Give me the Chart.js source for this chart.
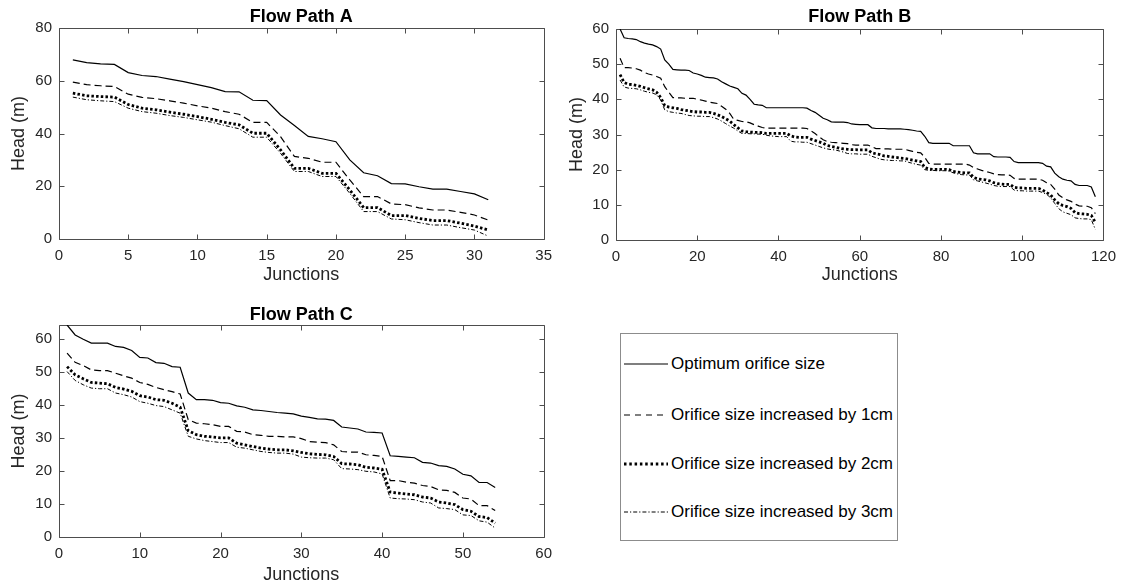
<!DOCTYPE html>
<html>
<head>
<meta charset="utf-8">
<script src="https://cdn.jsdelivr.net/npm/chart.js@4.4.0/dist/chart.umd.min.js"></script>
<style>
  body { margin: 0; background: #fff; width: 1124px; height: 585px; position: relative; overflow: hidden; font-family: "Liberation Sans", Arial, sans-serif; }
  .panel { position: absolute; }
  .legend { position: absolute; left: 620px; top: 333px; width: 278px; height: 208px; border: 1px solid #8c8c8c; box-sizing: border-box; background: #fff; }
  .legend .row { position: absolute; left: 3px; height: 20px; display: flex; align-items: center; font-size: 17px; color: #000; white-space: nowrap; }
  .legend svg { width: 44px; height: 6px; margin-right: 3px; }
</style>
</head>
<body>
<div class="panel" style="left:0;top:0"><canvas id="chartA" width="560" height="290"></canvas></div>
<div class="panel" style="left:560px;top:0"><canvas id="chartB" width="564" height="290"></canvas></div>
<div class="panel" style="left:0;top:290px"><canvas id="chartC" width="560" height="295"></canvas></div>

<div class="legend">
  <div class="row" style="top:20px"><svg><line x1="0" y1="3" x2="44" y2="3" stroke="#000" stroke-width="1.2"/></svg>Optimum orifice size</div>
  <div class="row" style="top:71px"><svg><line x1="0" y1="3" x2="44" y2="3" stroke="#000" stroke-width="1.2" stroke-dasharray="6,5"/></svg>Orifice size increased by 1cm</div>
  <div class="row" style="top:120px"><svg><line x1="0" y1="3" x2="44" y2="3" stroke="#000" stroke-width="2.8" stroke-dasharray="2.5,2.8"/></svg>Orifice size increased by 2cm</div>
  <div class="row" style="top:168px"><svg><line x1="0" y1="3" x2="44" y2="3" stroke="#000" stroke-width="1" stroke-dasharray="4,2,1.2,2"/></svg>Orifice size increased by 3cm</div>
</div>

<script>
// ---- Flow Path A (31 junctions) ----
const headA_opt = [67.9, 66.9, 66.4, 66.2, 63.1, 62.0, 61.6, 60.6, 59.7, 58.5,
  57.4, 55.9, 55.8, 52.6, 52.5, 47.0, 43.0, 38.9, 38.0, 36.9,
  30.0, 25.1, 24.0, 21.0, 20.9, 19.8, 18.9, 18.9, 18.0, 17.1, 14.9];
const headA_1cm = [59.5, 58.5, 58.1, 57.8, 54.9, 53.7, 53.2, 52.4, 51.5, 50.5,
  49.6, 48.3, 47.3, 44.2, 44.2, 38.8, 31.3, 30.6, 29.1, 29.1,
  22.4, 16.1, 16.1, 13.3, 13.0, 11.8, 11.0, 11.0, 10.1, 9.1, 7.2];
const headA_2cm = [55.3, 54.3, 54.0, 53.8, 51.0, 49.6, 49.0, 48.1, 47.3, 46.4,
  45.4, 44.2, 43.3, 40.1, 40.1, 33.8, 26.8, 26.8, 24.9, 24.9,
  18.6, 11.9, 11.9, 8.9, 8.9, 7.8, 7.0, 7.0, 6.0, 4.9, 3.4];
const headA_3cm = [53.8, 52.8, 52.4, 52.1, 49.6, 48.3, 47.7, 46.8, 46.1, 45.2,
  44.3, 43.0, 41.8, 38.6, 38.6, 32.5, 25.6, 25.6, 23.7, 23.7,
  17.3, 10.4, 10.4, 7.6, 7.3, 6.2, 5.3, 5.3, 4.3, 3.4, 1.1];

// ---- Flow Path B (118 junctions) ----
const headB_opt = [60.0, 57.5, 57.3, 57.2, 57.0, 56.4, 56.0, 55.7, 55.5, 55.0,
  54.3, 51.2, 50.0, 48.5, 48.4, 48.3, 48.3, 48.2, 47.5, 47.2,
  46.8, 46.3, 46.2, 46.1, 45.8, 45.0, 44.4, 43.8, 43.4, 43.0,
  41.7, 41.2, 40.0, 38.6, 38.4, 38.3, 37.6, 37.6, 37.6, 37.6,
  37.6, 37.6, 37.6, 37.6, 37.6, 37.6, 37.5, 36.8, 36.3, 35.5,
  34.6, 34.2, 33.6, 33.5, 33.5, 33.5, 33.4, 33.0, 32.9, 32.8,
  32.8, 32.8, 31.9, 31.7, 31.7, 31.7, 31.6, 31.6, 31.6, 31.6,
  31.5, 31.4, 31.2, 31.0, 30.9, 29.5, 27.7, 27.5, 27.5, 27.5,
  27.5, 27.5, 26.8, 26.8, 26.8, 26.8, 26.8, 24.8, 24.5, 24.5,
  24.5, 24.5, 23.7, 23.6, 23.6, 23.6, 23.5, 22.3, 22.0, 22.0,
  22.0, 22.0, 22.0, 22.0, 21.8, 21.0, 20.8, 19.0, 18.0, 17.3,
  17.0, 16.8, 15.8, 15.5, 15.5, 15.5, 15.1, 12.3];
const headB_1cm = [51.7, 49.0, 49.0, 48.9, 48.7, 48.3, 47.6, 47.2, 46.9, 46.5,
  46.0, 43.6, 42.0, 40.5, 40.4, 40.4, 40.3, 40.3, 40.3, 40.0,
  39.8, 39.5, 39.2, 39.0, 38.8, 38.0, 37.2, 36.0, 34.3, 34.0,
  33.7, 33.6, 33.3, 32.8, 32.4, 32.0, 31.8, 31.8, 31.8, 31.8,
  31.8, 31.8, 31.8, 31.8, 31.8, 31.8, 31.7, 31.0, 30.3, 29.3,
  28.5, 28.0, 27.8, 27.7, 27.6, 27.5, 27.4, 27.1, 27.0, 27.0,
  27.0, 27.0, 26.5, 26.0, 26.0, 25.9, 25.9, 25.8, 25.8, 25.8,
  25.8, 25.5, 25.2, 24.9, 24.8, 23.5, 21.8, 21.6, 21.6, 21.6,
  21.6, 21.6, 21.6, 21.6, 21.6, 21.6, 21.3, 20.6, 20.2, 19.8,
  19.5, 19.2, 18.8, 18.6, 18.5, 18.5, 18.4, 17.5, 17.3, 17.3,
  17.3, 17.3, 17.3, 17.3, 17.0, 16.3, 15.8, 14.5, 12.8, 12.0,
  11.4, 11.0, 10.2, 9.7, 9.6, 9.6, 9.2, 7.5];
const headB_2cm = [47.0, 44.8, 44.3, 44.2, 44.0, 43.7, 43.3, 43.0, 42.7, 42.0,
  40.5, 38.2, 37.8, 37.6, 37.4, 37.1, 36.9, 36.7, 36.5, 36.4,
  36.4, 36.3, 36.3, 36.0, 35.6, 35.1, 34.5, 33.8, 32.8, 31.9,
  31.0, 30.8, 30.7, 30.6, 30.6, 30.5, 30.3, 30.3, 30.3, 30.3,
  30.3, 30.3, 29.6, 29.3, 29.2, 29.2, 29.2, 28.7, 28.3, 27.9,
  27.5, 26.9, 26.6, 26.4, 26.1, 25.9, 25.8, 25.7, 25.7, 25.6,
  25.6, 25.6, 24.8, 24.5, 24.3, 23.9, 23.8, 23.6, 23.5, 23.3,
  23.2, 23.0, 22.7, 22.5, 22.3, 20.6, 20.2, 20.1, 20.1, 20.1,
  20.1, 20.0, 19.5, 19.3, 19.2, 19.1, 19.1, 17.8, 17.4, 17.2,
  17.1, 16.8, 16.3, 16.0, 15.9, 15.8, 15.8, 15.0, 14.8, 14.8,
  14.7, 14.7, 14.7, 14.7, 14.2, 13.5, 12.8, 11.4, 10.3, 9.8,
  9.5, 9.0, 7.8, 7.5, 7.4, 7.3, 7.0, 5.0];
const headB_3cm = [45.5, 43.5, 43.2, 43.1, 43.0, 42.7, 42.3, 42.0, 41.8, 41.3,
  39.8, 37.0, 36.5, 36.3, 36.1, 36.0, 35.7, 35.4, 35.3, 35.2,
  35.2, 35.1, 35.1, 34.8, 34.4, 33.8, 33.1, 32.4, 31.8, 31.0,
  30.3, 30.3, 30.2, 30.2, 30.1, 30.1, 29.8, 29.6, 29.5, 29.4,
  29.4, 29.4, 28.1, 27.9, 27.9, 27.8, 27.8, 27.4, 27.0, 26.6,
  26.2, 25.9, 25.7, 25.6, 25.3, 25.0, 24.6, 24.5, 24.5, 24.4,
  24.4, 24.4, 23.8, 23.4, 23.0, 22.8, 22.7, 22.6, 22.6, 22.5,
  22.5, 22.1, 21.8, 21.5, 21.3, 20.0, 19.8, 19.8, 19.7, 19.7,
  19.7, 19.6, 19.1, 18.8, 18.6, 18.5, 18.5, 17.1, 16.8, 16.5,
  16.2, 15.9, 15.5, 15.3, 15.2, 15.2, 15.2, 14.2, 14.0, 14.0,
  13.9, 13.9, 13.9, 13.9, 13.5, 13.0, 12.0, 10.4, 8.9, 8.0,
  7.6, 7.2, 6.3, 6.1, 6.0, 6.0, 5.8, 3.0];

// ---- Flow Path C (54 junctions) ----
const headC_opt = [64.2, 61.2, 59.9, 58.7, 58.7, 58.7, 57.7, 57.4, 56.5, 54.4,
  54.2, 52.8, 52.6, 51.6, 51.4, 43.6, 41.6, 41.6, 41.4, 40.7,
  40.5, 39.7, 39.3, 38.5, 38.3, 38.0, 37.7, 37.5, 37.3, 36.6,
  36.2, 35.8, 35.7, 35.3, 33.3, 33.0, 32.7, 31.8, 31.7, 31.5,
  24.6, 24.4, 24.2, 24.0, 22.6, 22.4, 21.6, 21.4, 20.6, 19.0,
  18.5, 16.5, 16.5, 15.0];
const headC_1cm = [55.7, 52.9, 51.9, 50.6, 50.4, 50.4, 49.6, 48.8, 48.1, 46.8,
  46.2, 45.3, 44.6, 44.0, 43.3, 35.5, 34.5, 34.3, 34.0, 33.5,
  33.5, 32.0, 31.8, 31.0, 30.8, 30.5, 30.5, 30.3, 30.3, 29.8,
  28.9, 28.7, 28.6, 27.9, 25.9, 25.7, 25.7, 24.9, 24.7, 24.4,
  17.1, 17.1, 16.6, 16.3, 15.6, 15.3, 14.3, 14.1, 13.5, 11.8,
  11.5, 9.5, 9.5, 8.0];
const headC_2cm = [51.6, 49.1, 47.9, 46.8, 46.6, 46.4, 45.3, 44.8, 44.1, 42.8,
  42.4, 41.6, 41.4, 40.5, 39.3, 32.2, 31.0, 30.5, 30.3, 30.0,
  30.0, 28.4, 27.9, 27.4, 26.9, 26.6, 26.4, 26.4, 26.1, 25.6,
  25.2, 25.0, 24.9, 24.4, 22.2, 22.1, 21.9, 21.1, 20.9, 20.5,
  13.6, 13.3, 13.0, 12.8, 12.1, 11.8, 10.6, 10.3, 9.8, 8.3,
  7.8, 6.2, 5.9, 4.2];
const headC_3cm = [50.1, 47.4, 46.1, 45.1, 44.9, 44.9, 43.6, 43.1, 42.4, 41.0,
  40.5, 39.8, 39.5, 38.5, 37.5, 30.5, 29.7, 29.2, 28.9, 28.6,
  28.6, 27.2, 26.9, 26.4, 25.9, 25.6, 25.4, 25.4, 25.1, 24.2,
  24.0, 23.9, 23.9, 23.4, 20.7, 20.6, 20.4, 19.9, 19.7, 19.1,
  11.8, 11.6, 11.5, 11.3, 10.6, 10.3, 8.8, 8.6, 8.3, 6.7,
  6.5, 4.9, 4.5, 2.7];

const seriesNames = ['Optimum orifice size', 'Orifice size increased by 1cm',
  'Orifice size increased by 2cm', 'Orifice size increased by 3cm'];

const FONT = '"Liberation Sans", Arial, sans-serif';
const TICK_COLOR = '#262626';

// line looks: solid, dashed, thick dotted, thin dash-dot
const lineStyles = [
  { borderWidth: 1.2, borderDash: [] },
  { borderWidth: 1.2, borderDash: [7, 4] },
  { borderWidth: 2.8, borderDash: [2.5, 2.2] },
  { borderWidth: 1.0, borderDash: [4, 2, 1.2, 2] }
];

// box round the plot with inward tick marks on all four sides
const boxPlugin = {
  id: 'matlabBox',
  beforeDatasetsDraw(chart) {
    const { ctx, chartArea: a, scales: { x, y } } = chart;
    const L = Math.round(a.left) + 0.5, R = Math.round(a.right) + 0.5;
    const T = Math.round(a.top) + 0.5, B = Math.round(a.bottom) + 0.5;
    const len = 5;
    ctx.save();
    ctx.strokeStyle = '#4d4d4d';
    ctx.lineWidth = 1;
    ctx.beginPath();
    ctx.rect(L, T, R - L, B - T);
    x.ticks.forEach(t => {
      const px = Math.round(x.getPixelForValue(t.value)) + 0.5;
      ctx.moveTo(px, B); ctx.lineTo(px, B - len);
      ctx.moveTo(px, T); ctx.lineTo(px, T + len);
    });
    y.ticks.forEach(t => {
      const py = Math.round(y.getPixelForValue(t.value)) + 0.5;
      ctx.moveTo(L, py); ctx.lineTo(L + len, py);
      ctx.moveTo(R, py); ctx.lineTo(R - len, py);
    });
    ctx.stroke();
    ctx.restore();
  }
};

function junctions(n) {
  return Array.from({ length: n }, (_, i) => i + 1);
}

function makePanel(id, p) {
  const datasets = p.series.map((vals, i) => ({
    label: seriesNames[i],
    data: vals,
    borderColor: '#000',
    borderWidth: lineStyles[i].borderWidth,
    borderDash: lineStyles[i].borderDash,
    borderCapStyle: 'butt',
    pointRadius: 0,
    tension: 0,
    fill: false
  }));

  new Chart(document.getElementById(id), {
    type: 'line',
    data: { labels: junctions(p.series[0].length), datasets },
    options: {
      responsive: false,
      animation: false,
      events: [],
      layout: { padding: { left: 0, right: p.padRight, top: 0, bottom: 0 } },
      plugins: {
        legend: { display: false },
        tooltip: { enabled: false },
        title: {
          display: true,
          text: p.title,
          fullSize: false,
          color: '#000',
          font: { family: FONT, size: 18, weight: 'bold', lineHeight: 1 },
          padding: { top: p.titleTop, bottom: p.titleBottom }
        }
      },
      scales: {
        x: {
          type: 'linear',
          min: p.xMin, max: p.xMax,
          grid: { display: false, drawTicks: false },
          border: { display: false },
          ticks: { stepSize: p.xStep, includeBounds: false, autoSkip: false, maxRotation: 0,
                   padding: 8, color: TICK_COLOR, font: { family: FONT, size: 15 } },
          title: { display: true, text: 'Junctions', color: '#262626',
                   font: { family: FONT, size: 18, lineHeight: 1 }, padding: { top: 0, bottom: p.xTitlePad } },
          afterFit: s => { s.height = p.xAxisH; }
        },
        y: {
          min: p.yMin, max: p.yMax,
          grid: { display: false, drawTicks: false },
          border: { display: false },
          ticks: { stepSize: p.yStep, includeBounds: false, autoSkip: false,
                   padding: 7, color: TICK_COLOR, font: { family: FONT, size: 15 } },
          title: { display: true, text: 'Head (m)', color: '#262626',
                   font: { family: FONT, size: 18, lineHeight: 1 }, padding: { top: p.yTitlePad, bottom: 0 } },
          afterFit: s => { s.width = p.yAxisW; }
        }
      }
    },
    plugins: [boxPlugin]
  });
}

makePanel('chartA', {
  title: 'Flow Path A',
  series: [headA_opt, headA_1cm, headA_2cm, headA_3cm],
  xMin: 0, xMax: 35, xStep: 5, yMin: 0, yMax: 80, yStep: 20,
  yAxisW: 59, xAxisH: 51, padRight: 12, titleTop: 8.5, titleBottom: 1.5,
  xTitlePad: 6, yTitlePad: 10
});

makePanel('chartB', {
  title: 'Flow Path B',
  series: [headB_opt, headB_1cm, headB_2cm, headB_3cm],
  xMin: 0, xMax: 120, xStep: 20, yMin: 0, yMax: 60, yStep: 10,
  yAxisW: 56, xAxisH: 50, padRight: 18, titleTop: 8.5, titleBottom: 2.5,
  xTitlePad: 6, yTitlePad: 8
});

makePanel('chartC', {
  title: 'Flow Path C',
  series: [headC_opt, headC_1cm, headC_2cm, headC_3cm],
  xMin: 0, xMax: 60, xStep: 10, yMin: 0, yMax: 64.2, yStep: 10,
  yAxisW: 59, xAxisH: 48, padRight: 12, titleTop: 16, titleBottom: 1,
  xTitlePad: 1, yTitlePad: 10
});
</script>
</body>
</html>
